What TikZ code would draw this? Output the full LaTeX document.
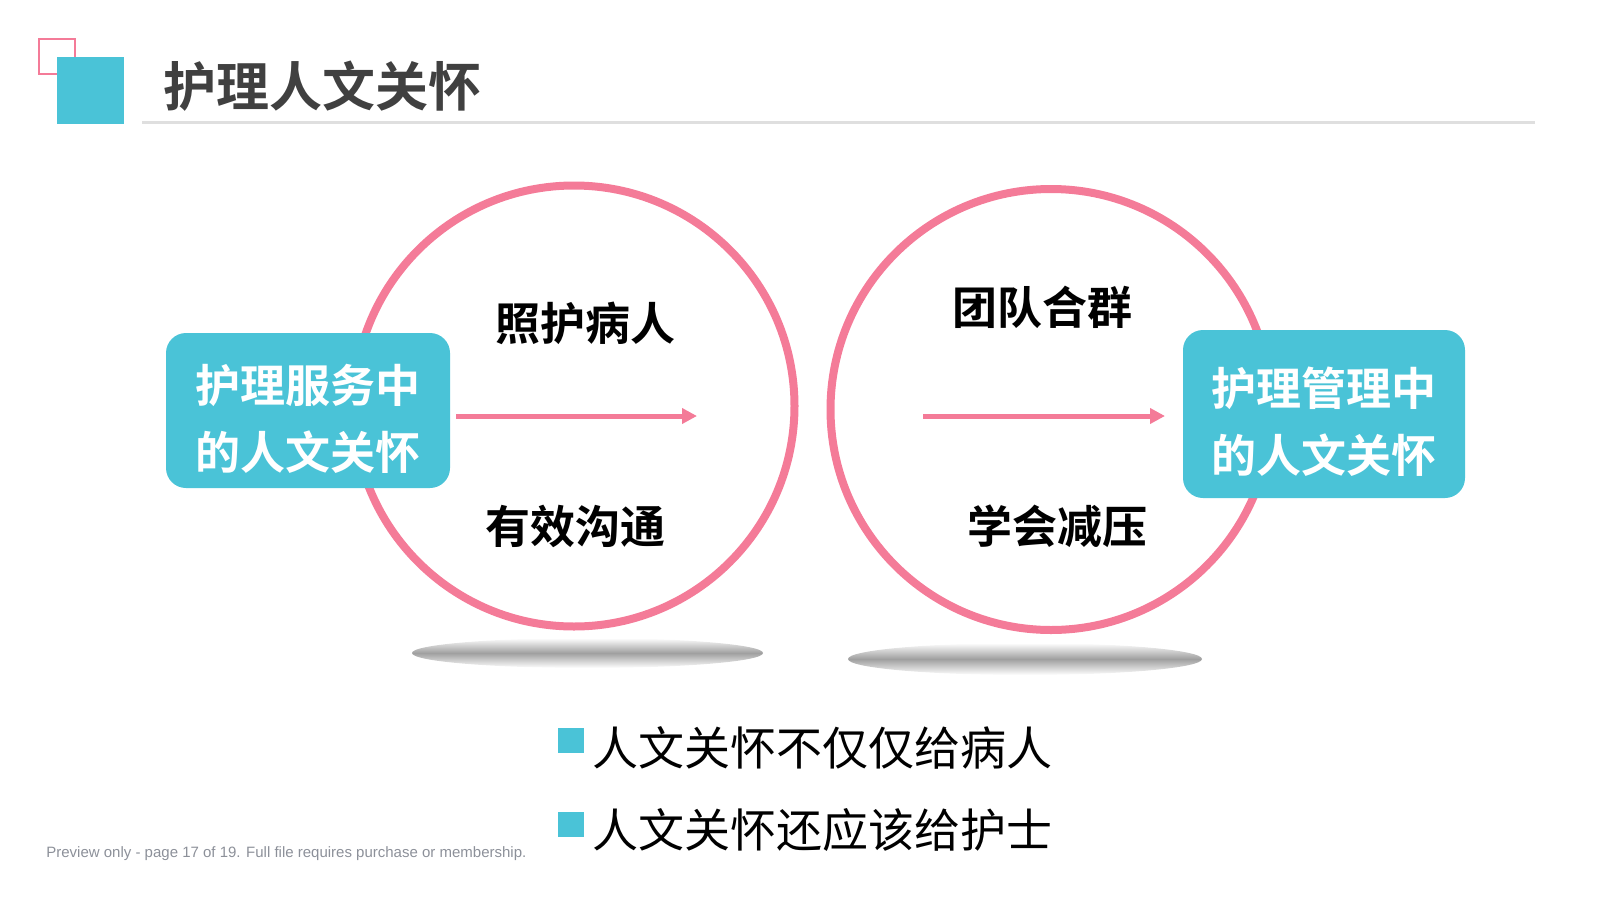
\documentclass[tikz,border=0pt]{standalone}
\usepackage{fontspec}
\setmainfont{Liberation Sans}
\newfontfamily\cjk{Noto Sans CJK SC}[BoldFont={* Bold}]
\usetikzlibrary{arrows.meta}

\definecolor{tealbox}{HTML}{4AC3D7}
\definecolor{rose}{HTML}{F47B98}
\definecolor{titlegray}{HTML}{404040}
\definecolor{footgray}{HTML}{8C9099}

\tikzstyle{ring} = [circle, draw=rose, line width=4pt, minimum size=220.5pt, inner sep=0pt]
\tikzstyle{carebox} = [rectangle, rounded corners=10pt, fill=tealbox, text=white, align=center, inner sep=0pt, font=\cjk\bfseries\fontsize{22.5}{33.5}\selectfont]
\tikzstyle{topic} = [inner sep=0pt, text=black, font=\cjk\bfseries\fontsize{22.5}{22.5}\selectfont]
\tikzstyle{point} = [anchor=west, inner sep=0pt, text=black, font=\cjk\fontsize{23}{23}\selectfont]
\tikzstyle{mark square} = [fill=tealbox, minimum width=13pt, minimum height=12.5pt, inner sep=0pt]
\tikzstyle{arrow} = [draw=rose, line width=2.5pt, -{Triangle[length=7.5pt,width=7.5pt]}]

\begin{document}
\begin{tikzpicture}[x=0.5pt, y=-0.5pt]
	\useasboundingbox (0,0) rectangle (1601,900);

	% heading
	\draw [rose, line width=0.8pt] (39,39) rectangle (75,74);
	\fill [tealbox] (57,57) rectangle (124,124);
	\node (title) [anchor=west, inner sep=0pt, text=titlegray, font=\cjk\bfseries\fontsize{26.5}{26.5}\selectfont] at (163,86) {护理人文关怀};
	\draw [gray!25, line width=1.5pt] (142,122) -- (1535,122);

	% shadows
	\shade [top color=white, bottom color=white, middle color=gray!75] (587.5,653) ellipse [x radius=87.75pt, y radius=7.5pt];
	\shade [top color=white, bottom color=white, middle color=gray!75] (1025,659) ellipse [x radius=88.5pt, y radius=8pt];

	% circles
	\node (c1) [ring] at (574,406) {};
	\node (c2) [ring] at (1051,409.5) {};

	% boxes
	\node (b1) [carebox, minimum width=142pt, minimum height=77.5pt] at (308,410.5) {\rule{0pt}{27pt}护理服务中\\的人文关怀};
	\node (b2) [carebox, minimum width=141pt, minimum height=84pt] at (1324,414) {\rule{0pt}{27pt}护理管理中\\的人文关怀};

	% topics
	\node (t1) [topic] at (585,323) {照护病人};
	\node (t2) [topic] at (575,526) {有效沟通};
	\node (t3) [topic] at (1042,307) {团队合群};
	\node (t4) [topic] at (1057,526) {学会减压};

	% arrows
	\coordinate (a1) at (456,416);
	\coordinate (e1) at (697,416);
	\coordinate (a2) at (923,416);
	\coordinate (e2) at (1165,416);
	\draw [arrow] (a1) -- (e1);
	\draw [arrow] (a2) -- (e2);

	% points
	\node (m1) [mark square] at (571,740.5) {};
	\node (p1) [point] at (592,748) {人文关怀不仅仅给病人};
	\node (m2) [mark square] at (571,824) {};
	\node (p2) [point] at (592,830) {人文关怀还应该给护士};

	% footer
	\node (foot) [anchor=west, inner sep=0pt, text=footgray, font=\fontsize{7.5}{9}\selectfont] at (46,854) {Preview only - page 17 of 19. Full file requires purchase or membership.};
\end{tikzpicture}
\end{document}
